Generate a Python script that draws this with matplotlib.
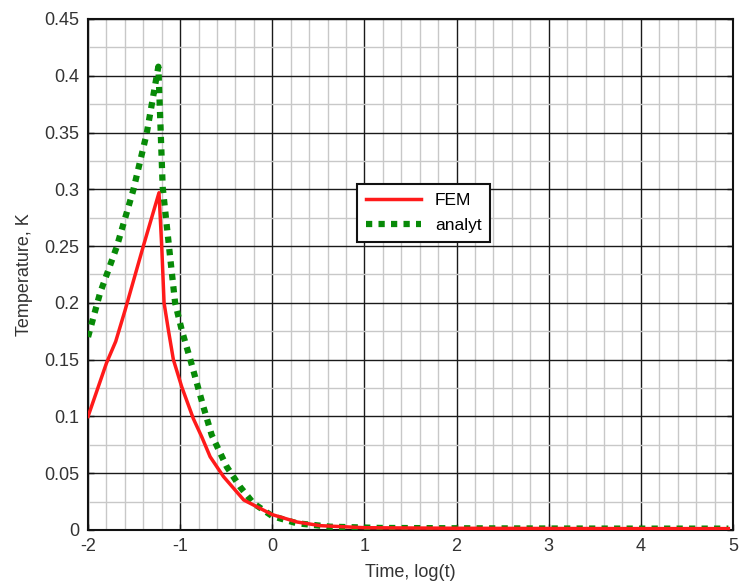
import matplotlib
matplotlib.use('Agg')
import matplotlib.pyplot as plt
from matplotlib.ticker import MultipleLocator

# log10(time) and temperature
fem_x = [-2.0, -1.8, -1.7, -1.6, -1.4, -1.23, -1.2, -1.175, -1.128, -1.074,
         -0.983, -0.857, -0.766, -0.675, -0.53, -0.31, 0.0, 0.27, 0.52, 1.0,
         2.0, 3.0, 4.0, 4.95]
fem_y = [0.100, 0.147, 0.166, 0.193, 0.250, 0.297, 0.249, 0.200, 0.176, 0.150,
         0.126, 0.098, 0.082, 0.0645, 0.047, 0.0264, 0.0135, 0.007, 0.0038, 0.002,
         0.0015, 0.0013, 0.0012, 0.0012]

ana_x = [-2.0, -1.87, -1.69, -1.51, -1.364, -1.237, -1.19, -1.164, -1.11,
         -1.055, -0.983, -0.89, -0.748, -0.658, -0.495, -0.35, -0.205, 0.0, 0.266,
         0.627, 1.17, 2.0, 3.0, 4.0, 4.95]
ana_y = [0.170, 0.2086, 0.249, 0.299, 0.349, 0.408, 0.302, 0.282, 0.241,
         0.200, 0.176, 0.150, 0.1085, 0.0836, 0.0557, 0.038, 0.0235, 0.0122, 0.0059,
         0.0029, 0.0018, 0.0015, 0.0013, 0.0012, 0.0012]

plt.rcParams['font.family'] = ['Liberation Sans', 'DejaVu Sans']
plt.rcParams['axes.unicode_minus'] = False

fig = plt.figure(figsize=(7.4, 5.86), dpi=100)
ax = fig.add_axes([0.119, 0.0956, 0.8715, 0.872])

ax.plot(fem_x, fem_y, color='#ff1a1a', linewidth=2.5, label='FEM', zorder=4)
ax.plot(ana_x, ana_y, color='#078a07', linewidth=4.5, linestyle=(0, (1, 1)),
        label='analyt', zorder=3)

ax.set_xlim(-2, 5)
ax.set_ylim(0, 0.45)
ax.xaxis.set_major_locator(MultipleLocator(1))
ax.xaxis.set_minor_locator(MultipleLocator(0.2))
ax.yaxis.set_major_locator(MultipleLocator(0.05))
ax.yaxis.set_minor_locator(MultipleLocator(0.025))
ax.set_yticklabels([f'{v:g}' for v in ax.get_yticks()])

ax.grid(which='minor', color='#c8c8c8', linewidth=1.0)
ax.grid(which='major', color='#1a1a1a', linewidth=1.0)
ax.set_axisbelow(True)

ax.tick_params(which='major', direction='in', length=4, width=1,
               labelsize=13, labelcolor='#333333', color='#111111',
               right=True, pad=6)
ax.tick_params(which='minor', length=0)
for s in ax.spines.values():
    s.set_linewidth(1.5)
    s.set_color('#111111')

ax.set_xlabel('Time, log(t)', fontsize=13, color='#333333', labelpad=6)
ax.set_ylabel('Temperature, K', fontsize=13, color='#333333', labelpad=8)

leg = ax.legend(loc='upper left', bbox_to_anchor=(0.417, 0.677), fontsize=12.5,
                fancybox=False, framealpha=1, edgecolor='#111111',
                handlelength=3.2, borderpad=0.5, labelspacing=0.6,
                borderaxespad=0)
leg.get_frame().set_linewidth(1.5)

fig.savefig('out.png', dpi=100)
